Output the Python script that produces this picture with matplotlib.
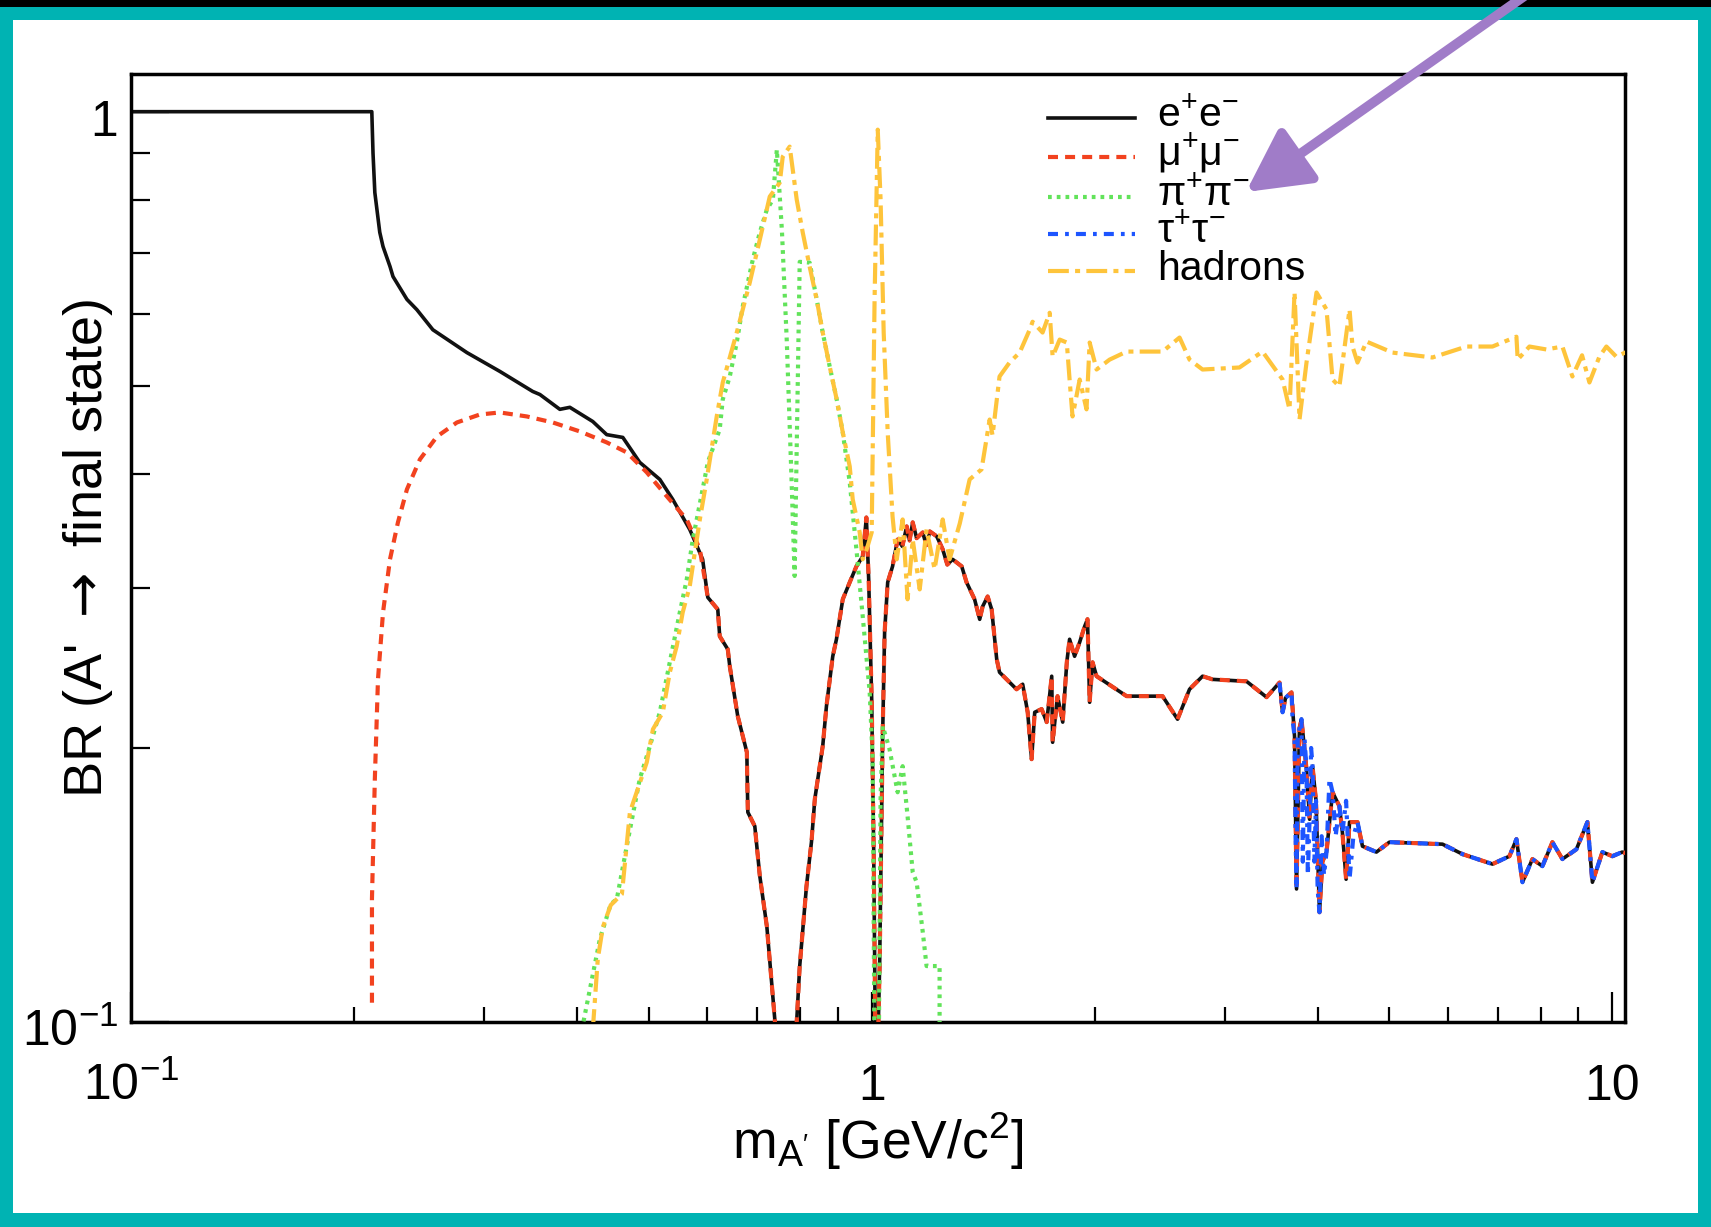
#!/usr/bin/env python3
"""
Dark photon branching ratios

Redraws BR(A' -> final state) against the A' mass on log-log axes,
one line per decay channel, inside a teal slide frame with a pointer arrow.
"""

import numpy as np
import matplotlib
matplotlib.use('Agg')
import matplotlib.pyplot as plt
from matplotlib.lines import Line2D
from matplotlib.patches import Rectangle, FancyArrowPatch
from matplotlib.ticker import FixedLocator, FixedFormatter, LogLocator, NullFormatter
from matplotlib.transforms import ScaledTranslation

# ---------------------------------------------------------------------------
# Values (mass in GeV/c^2, branching ratio)
# ---------------------------------------------------------------------------

# e+e- below the region where it coincides with mu+mu-
mass_ee_low = [0.1, 0.2114, 0.2122, 0.2134, 0.2148, 0.2167, 0.2189, 0.2237, 0.2258,
               0.2358, 0.2432, 0.2556, 0.2841, 0.3148, 0.3486, 0.3565, 0.3793, 0.3913,
               0.4202, 0.4388, 0.4613, 0.4862, 0.5175, 0.5387, 0.568, 0.5734, 0.5912]
br_ee_low = [1.0, 1.0, 0.90, 0.815, 0.7805, 0.737, 0.711, 0.676, 0.659,
             0.622, 0.606, 0.576, 0.5437, 0.5184, 0.4928, 0.489, 0.471, 0.4734,
             0.4567, 0.4418, 0.4387, 0.4119, 0.3945, 0.3751, 0.3476, 0.3416, 0.3223]

# mu+mu- from threshold up to where it joins e+e-
mass_mumu_low = [0.2115, 0.2115, 0.2134, 0.2155, 0.2189, 0.2237, 0.2293, 0.2358,
                 0.2455, 0.2588, 0.2754, 0.2958, 0.3148, 0.3423, 0.3711, 0.4036,
                 0.4388, 0.467, 0.497, 0.5289, 0.5627, 0.5861]
br_mumu_low = [0.105, 0.1365, 0.1848, 0.2379, 0.2818, 0.3223, 0.3539, 0.3847,
               0.415, 0.4396, 0.4556, 0.4649, 0.4673, 0.4626, 0.4556, 0.4454,
               0.4332, 0.4224, 0.4016, 0.378, 0.3565, 0.3306]

# common lepton curve above ~0.6 GeV (e+e- and mu+mu- lie on top of each other)
mass_ll = [0.6008, 0.6197, 0.6235, 0.6393, 0.6433, 0.6594, 0.6783, 0.6804, 0.6953, 0.7063,
           0.7218, 0.7398, 0.752, 0.785, 0.7921, 0.7995, 0.8165, 0.8292, 0.8379, 0.8507,
           0.8588, 0.8688, 0.886, 0.8962, 0.914, 0.934, 0.9536, 0.9725, 0.9836, 0.9907,
           1.0, 1.0062, 1.011, 1.016, 1.021, 1.025, 1.03, 1.0348, 1.041, 1.051,
           1.067, 1.084, 1.10, 1.115, 1.125, 1.136, 1.15, 1.172, 1.185, 1.198,
           1.224, 1.247, 1.265, 1.286, 1.323, 1.343, 1.377, 1.399, 1.412, 1.434,
           1.452, 1.475, 1.488, 1.521, 1.569, 1.599, 1.624, 1.644, 1.660, 1.696,
           1.723, 1.750, 1.755, 1.782, 1.811, 1.834, 1.850, 1.879, 1.909, 1.939,
           1.956, 1.969, 1.987, 2.012, 2.209, 2.47, 2.588, 2.686, 2.797, 2.885,
           3.207, 3.413, 3.553, 3.587, 3.62, 3.688, 3.723, 3.746, 3.78, 3.804,
           3.864, 3.901, 3.937, 3.98, 4.023, 4.06, 4.112, 4.19, 4.28, 4.32,
           4.37, 4.417, 4.528, 4.598, 4.802, 5.0, 5.897, 6.275, 6.888, 7.262,
           7.421, 7.561, 7.799, 8.045, 8.299, 8.561, 8.942, 9.253, 9.398, 9.694,
           10.0, 10.31, 10.5]
br_ll = [0.2927, 0.284, 0.2653, 0.2567, 0.2459, 0.2168, 0.1979, 0.170, 0.1641, 0.1446,
         0.1274, 0.1008, 0.08, 0.08, 0.1002, 0.1152, 0.141, 0.1576, 0.1757, 0.191,
         0.2009, 0.2223, 0.2522, 0.2633, 0.2913, 0.3041, 0.3166, 0.3247, 0.3583, 0.3063,
         0.2262, 0.1548, 0.1, 0.075, 0.1, 0.1152, 0.1548, 0.2081, 0.268, 0.3041,
         0.3166, 0.3389, 0.333, 0.3503, 0.338, 0.3539, 0.34, 0.345, 0.334, 0.3459,
         0.3416, 0.3306, 0.318, 0.3223, 0.3166, 0.3041, 0.2913, 0.2769, 0.2861, 0.2934,
         0.284, 0.2503, 0.2422, 0.2379, 0.232, 0.235, 0.2189, 0.1944, 0.2189, 0.2207,
         0.2135, 0.2398, 0.2029, 0.228, 0.2135, 0.2484, 0.2633, 0.2522, 0.2614, 0.2721,
         0.277, 0.2245, 0.2484, 0.2398, 0.228, 0.228, 0.2151, 0.232, 0.2398, 0.2379,
         0.2367, 0.2274, 0.236, 0.2189, 0.227, 0.2302, 0.206, 0.14, 0.21, 0.2151,
         0.1895, 0.167, 0.191, 0.175, 0.132, 0.15, 0.1537, 0.1788, 0.1726, 0.1616,
         0.1435, 0.1658, 0.1658, 0.156, 0.1537, 0.1576, 0.1568, 0.1529, 0.1491, 0.1521,
         0.1588, 0.1424, 0.151, 0.1483, 0.1576, 0.151, 0.1548, 0.1658, 0.1424, 0.1537,
         0.1521, 0.1537, 0.153]

# pi+pi-
mass_pipi = [0.4061, 0.4296, 0.4443, 0.4528, 0.467, 0.4862, 0.5018, 0.5175, 0.5338, 0.5507,
             0.5627, 0.5734, 0.5912, 0.6008, 0.6235, 0.6294, 0.6433, 0.6574, 0.6697, 0.691,
             0.7063, 0.7218, 0.7355, 0.7446, 0.7565, 0.768, 0.779, 0.787, 0.7995, 0.8246,
             0.8429, 0.8588, 0.8776, 0.8969, 0.914, 0.934, 0.9536, 0.9725, 0.9938, 1.003,
             1.009, 1.022, 1.028, 1.035, 1.057, 1.084, 1.101, 1.118, 1.136, 1.15,
             1.172, 1.186, 1.235, 1.235]
br_pipi = [0.098, 0.1234, 0.1347, 0.1365, 0.156, 0.1848, 0.2009, 0.2189, 0.2484, 0.2818,
           0.3063, 0.3389, 0.3847, 0.4119, 0.4477, 0.483, 0.5118, 0.5578, 0.6109, 0.688,
           0.737, 0.7805, 0.8007, 0.9084, 0.74, 0.56, 0.40, 0.309, 0.684, 0.6827,
           0.6218, 0.572, 0.525, 0.483, 0.4443, 0.3915, 0.3306, 0.279, 0.2302, 0.1944,
           0.09, 0.09, 0.1757, 0.2113, 0.1994, 0.1788, 0.191, 0.1683, 0.1461, 0.1424,
           0.1256, 0.1152, 0.1152, 0.098]

# tau+tau- (opens at 2 m_tau)
mass_tautau = [3.553, 3.587, 3.62, 3.688, 3.70, 3.723, 3.735, 3.746, 3.76, 3.78,
               3.804, 3.82, 3.84, 3.864, 3.88, 3.901, 3.92, 3.937, 3.96, 3.98,
               4.0, 4.023, 4.05, 4.08, 4.112, 4.15, 4.19, 4.23, 4.28, 4.32,
               4.37, 4.417, 4.47, 4.528, 4.598, 4.802, 5.0, 5.897, 6.275, 6.888,
               7.262, 7.421, 7.561, 7.799, 8.045, 8.299, 8.561, 8.942, 9.253, 9.398,
               9.694, 10.0, 10.31, 10.5]
br_tautau = [0.236, 0.2189, 0.227, 0.2302, 0.215, 0.206, 0.16, 0.14, 0.205, 0.21,
             0.2151, 0.15, 0.205, 0.1895, 0.145, 0.167, 0.2, 0.191, 0.15, 0.175,
             0.14, 0.132, 0.16, 0.145, 0.1537, 0.185, 0.1788, 0.16, 0.1726, 0.1616,
             0.175, 0.1435, 0.16, 0.1658, 0.156, 0.1537, 0.1576, 0.1568, 0.1529, 0.1491,
             0.1521, 0.1588, 0.1424, 0.151, 0.1483, 0.1576, 0.151, 0.1548, 0.1658, 0.1424,
             0.1537, 0.1521, 0.1537, 0.153]

# hadrons
mass_had = [0.4202, 0.4268, 0.4335, 0.4443, 0.46, 0.4716, 0.497, 0.5066, 0.5224, 0.5338,
            0.5454, 0.5557, 0.568, 0.5861, 0.5988, 0.6177, 0.6294, 0.6574, 0.6846, 0.7063,
            0.7284, 0.7515, 0.7584, 0.775, 0.7921, 0.807, 0.8246, 0.8429, 0.8588, 0.8776,
            0.8969, 0.914, 0.934, 0.9427, 0.9634, 0.9725, 0.9846, 1.0, 1.009, 1.019,
            1.028, 1.038, 1.051, 1.067, 1.081, 1.101, 1.118, 1.136, 1.161, 1.186,
            1.216, 1.247, 1.274, 1.315, 1.356, 1.407, 1.443, 1.456, 1.488, 1.535,
            1.584, 1.634, 1.649, 1.701, 1.739, 1.755, 1.794, 1.834, 1.85, 1.867,
            1.909, 1.95, 1.969, 2.012, 2.095, 2.209, 2.47, 2.604, 2.686, 2.797,
            3.137, 3.37, 3.587, 3.665, 3.723, 3.781, 3.864, 3.986, 4.112, 4.19,
            4.28, 4.417, 4.458, 4.528, 4.656, 5.048, 5.715, 6.353, 6.888, 7.421,
            7.45, 7.727, 8.147, 8.561, 8.831, 9.1, 9.311, 9.605, 9.815, 10.12,
            10.48]
br_had = [0.098, 0.1173, 0.1271, 0.1344, 0.1382, 0.17, 0.1929, 0.2097, 0.2189, 0.2421,
          0.2587, 0.2818, 0.3011, 0.3565, 0.3945, 0.4626, 0.5041, 0.572, 0.6493, 0.7237,
          0.8067, 0.8357, 0.8925, 0.9154, 0.8007, 0.737, 0.6757, 0.6218, 0.572, 0.525,
          0.483, 0.4443, 0.4077, 0.3751, 0.345, 0.3223, 0.3306, 0.345, 0.6218, 0.9556,
          0.8007, 0.572, 0.4443, 0.3592, 0.3223, 0.3565, 0.2913, 0.3389, 0.2987, 0.3476,
          0.3143, 0.3565, 0.3223, 0.3529, 0.3945, 0.4046, 0.459, 0.441, 0.5118, 0.5302,
          0.5437, 0.576, 0.5878, 0.572, 0.6013, 0.5382, 0.5619, 0.5577, 0.5079, 0.4626,
          0.5079, 0.471, 0.5577, 0.5209, 0.5341, 0.5451, 0.5451, 0.5648, 0.5341, 0.5209,
          0.5236, 0.5451, 0.5079, 0.471, 0.633, 0.459, 0.5302, 0.633, 0.6063, 0.5079,
          0.499, 0.6063, 0.5521, 0.5302, 0.5591, 0.5437, 0.537, 0.5521, 0.5521, 0.566,
          0.5341, 0.5521, 0.548, 0.5521, 0.5118, 0.54, 0.5041, 0.5382, 0.5521, 0.5382,
          0.5451]

channel_labels = [r'$e^{+}e^{-}$', r'$μ^{+}μ^{-}$', r'$π^{+}π^{-}$',
                  r'$τ^{+}τ^{-}$', 'hadrons']

x_tick_values = [0.1, 1, 10]
x_tick_labels = [r'$10^{-1}$', '1', '10']
y_tick_values = [0.1, 1]
y_tick_labels = [r'$10^{-1}$', '1']

# ---------------------------------------------------------------------------

W, H = 1711, 1227
TEAL = '#00b3b3'
FONT = ['Liberation Sans', 'DejaVu Sans']

plt.rcParams['font.family'] = FONT
plt.rcParams['mathtext.default'] = 'regular'


def draw_frame(fig):
    """Teal slide border, white panel and the thin black strip along the top."""
    fig.add_artist(Rectangle((13 / W, 14 / H), (1698 - 13) / W, (1207 - 14) / H,
                             transform=fig.transFigure, facecolor='white',
                             edgecolor='none', zorder=-10))
    fig.add_artist(Rectangle((0, 1 - 7 / H), 1, 7 / H,
                             transform=fig.transFigure, facecolor='black',
                             edgecolor='none', zorder=-9))


def draw_curves(ax):
    """Plot the five decay channels; returns the line handles in legend order."""
    ee, = ax.plot(mass_ee_low + mass_ll, br_ee_low + br_ll,
                  color='#111111', lw=2.6, zorder=2)
    mumu, = ax.plot(mass_mumu_low + mass_ll, br_mumu_low + br_ll,
                    color='#f2421f', lw=3.0, dashes=(2.4, 1.7), zorder=3)
    pipi, = ax.plot(mass_pipi, br_pipi,
                    color='#62e35a', lw=3.0, dashes=(0.9, 1.2), zorder=4)
    tautau, = ax.plot(mass_tautau, br_tautau,
                      color='#1d55ff', lw=3.0, dashes=(2.4, 1.7, 0.9, 1.7), zorder=5)
    had, = ax.plot(mass_had, br_had,
                   color='#fec43b', lw=3.0, dashes=(5.0, 1.5, 1.2, 1.5), zorder=6)
    return [ee, mumu, pipi, tautau, had]


def style_axes(ax):
    """ROOT-like log axes: inward ticks on bottom/left only, thick frame."""
    ax.set_xscale('log')
    ax.set_yscale('log')
    ax.set_xlim(0.1, 10.4)
    ax.set_ylim(0.1, 1.1)

    ax.xaxis.set_major_locator(FixedLocator(x_tick_values))
    ax.xaxis.set_major_formatter(FixedFormatter(x_tick_labels))
    ax.yaxis.set_major_locator(FixedLocator(y_tick_values))
    ax.yaxis.set_major_formatter(FixedFormatter(y_tick_labels))
    for axis in (ax.xaxis, ax.yaxis):
        axis.set_minor_locator(LogLocator(base=10, subs=np.arange(2, 10)))
        axis.set_minor_formatter(NullFormatter())

    ax.tick_params(which='both', direction='in', top=False, right=False,
                   width=1.6, color='black', labelsize=36)
    ax.tick_params(axis='x', which='major', length=21.6, pad=56)
    ax.tick_params(axis='x', which='minor', length=10.8)
    ax.tick_params(axis='y', which='major', length=27, pad=9)
    ax.tick_params(axis='y', which='minor', length=13.7)

    # put every tick label on a common baseline, like ROOT does
    for lab in ax.get_xticklabels():
        lab.set_verticalalignment('baseline')
    drop = ScaledTranslation(0, -0.24, ax.figure.dpi_scale_trans)
    for lab in ax.get_yticklabels():
        lab.set_verticalalignment('baseline')
        lab.set_transform(lab.get_transform() + drop)

    for spine in ax.spines.values():
        spine.set_linewidth(2.5)
        spine.set_color('black')

    ax.set_xlabel(r"$m_{A'}$ [GeV/c$^{2}$]", fontsize=38.5)
    ax.xaxis.set_label_coords(0.5, -0.094)
    ax.set_ylabel(r"BR (A' $\mathrm{\rightarrow}$ final state)", fontsize=39)
    ax.yaxis.set_label_coords(-0.011, 0.5)


def add_legend(ax, handles):
    """Frameless ROOT-style legend with tightly packed rows."""
    x0, x1, x_text = 0.6138, 0.6720, 0.6867
    row_y = [0.9536, 0.9124, 0.8700, 0.8308, 0.7922]
    for handle, label, y in zip(handles, channel_labels, row_y):
        sample = Line2D([x0, x1], [y, y])
        sample.update_from(handle)
        sample.set_transform(ax.transAxes)
        sample.set_clip_on(False)
        ax.add_line(sample)
        ax.text(x_text, y - 0.009, label, transform=ax.transAxes,
                va='baseline', ha='left', fontsize=29.5)


def add_pointer(fig):
    """Purple annotation arrow coming in from the top edge."""
    arrow = FancyArrowPatch((1533 / W, 1 + 10 / H), (1246 / W, 1 - 192 / H),
                            transform=fig.transFigure,
                            arrowstyle='-|>,head_length=38,head_width=20',
                            mutation_scale=1, lw=7, color='#a07cc8',
                            shrinkA=0, shrinkB=0, zorder=20)
    fig.add_artist(arrow)


def main():
    fig = plt.figure(figsize=(W / 100, H / 100), dpi=100, facecolor=TEAL)
    draw_frame(fig)

    ax = fig.add_axes([131 / W, (H - 1022) / H, 1494 / W, 948 / H])
    handles = draw_curves(ax)
    style_axes(ax)
    add_legend(ax, handles)
    add_pointer(fig)

    fig.savefig('out.png', dpi=100, facecolor=fig.get_facecolor())


if __name__ == '__main__':
    main()
